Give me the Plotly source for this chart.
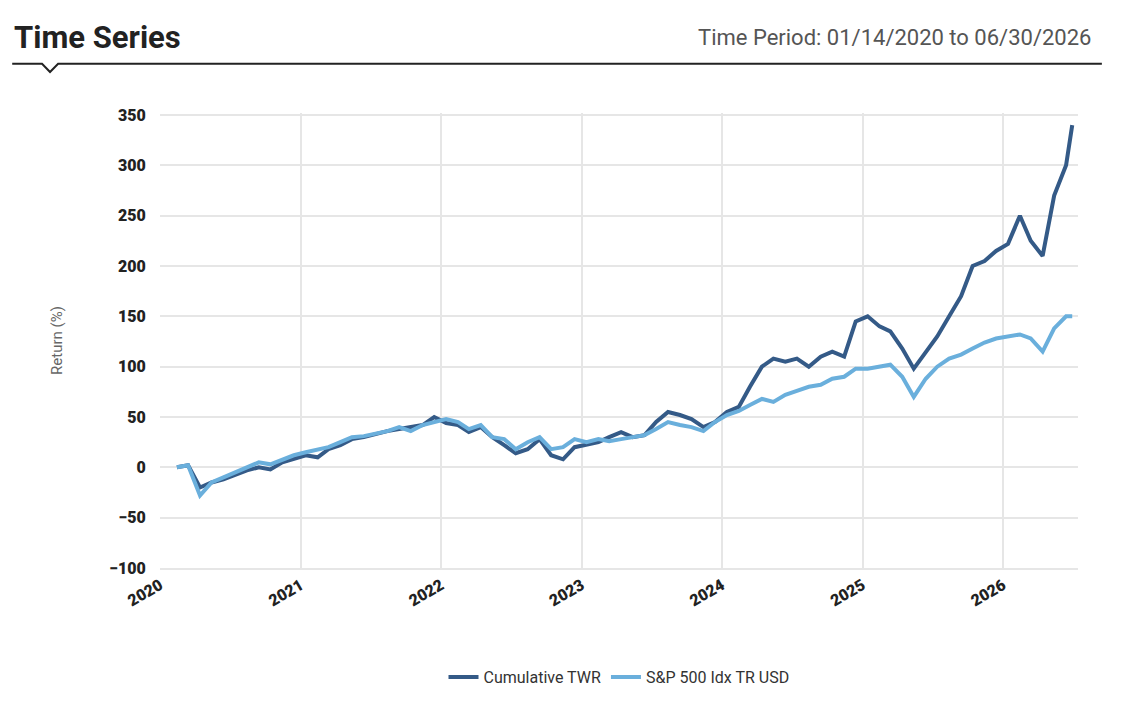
import plotly.graph_objects as go
import pandas as pd

# ---- Datos ----
fechas = list(pd.date_range("2020-01-14", periods=78, freq="MS") + pd.Timedelta(days=13))
fechas[-1] = pd.Timestamp("2026-06-30")

twr = [0, 2, -20, -15, -12, -8, -3, 0, -2, 5, 8, 12,
       10, 18, 22, 28, 30, 33, 36, 38, 40, 42, 50, 44,
       42, 35, 40, 30, 22, 14, 18, 28, 12, 8, 20, 22,
       25, 30, 35, 30, 32, 45, 55, 52, 48, 40, 45, 55,
       60, 80, 100, 108, 105, 108, 100, 110, 115, 110, 145, 150,
       140, 135, 118, 98, 115, 130, 150, 170, 200, 205, 215, 222,
       250, 225, 210, 270, 300, 340]
sp500 = [0, 2, -28, -15, -10, -5, 0, 5, 3, 8, 12, 15,
         18, 20, 25, 30, 31, 33, 36, 40, 36, 42, 45, 48,
         45, 38, 42, 30, 28, 18, 25, 30, 18, 20, 28, 25,
         28, 26, 28, 30, 32, 38, 45, 42, 40, 36, 45, 52,
         56, 62, 68, 65, 72, 76, 80, 82, 88, 90, 98, 98,
         100, 102, 90, 70, 88, 100, 108, 112, 118, 124, 128, 130,
         132, 128, 115, 138, 150, 150]

años = ["2020", "2021", "2022", "2023", "2024", "2025", "2026"]

fig = go.Figure()
fig.add_trace(go.Scatter(x=fechas, y=twr, name="Cumulative TWR", mode="lines",
                         line=dict(color="#345a87", width=4)))
fig.add_trace(go.Scatter(x=fechas, y=sp500, name="S&P 500 Idx TR USD", mode="lines",
                         line=dict(color="#6aafdc", width=4)))

fig.update_layout(
    margin=dict(l=152, r=44, t=105, b=132, autoexpand=False),
    plot_bgcolor="white", paper_bgcolor="white",
    font=dict(family="Roboto", color="#333"),
    xaxis=dict(range=["2020-01-01", "2026-07-15"], tickvals=[a + "-01-01" for a in años],
               ticktext=años, tickangle=-30, showgrid=True, gridcolor="#e6e6e6", gridwidth=2,
               showline=True, linecolor="#e6e6e6", linewidth=2, ticks="",
               tickfont=dict(size=16, color="#222", family="Roboto Black")),
    yaxis=dict(range=[-100, 352], dtick=50, showgrid=True, gridcolor="#e6e6e6", gridwidth=2,
               zeroline=False, ticks="outside", ticklen=10, tickcolor="white",
               tickfont=dict(size=16, color="#222", family="Roboto Black"),
               title=dict(text="Return (%)", font=dict(size=15, color="#666"), standoff=42)),
    legend=dict(orientation="h", x=0.5, xanchor="center", y=-0.24, yanchor="middle",
                font=dict(size=16, color="#333")),
    annotations=[
        dict(text="<b>Time Series</b>", xref="paper", yref="paper", x=-0.161, y=1.165,
             xanchor="left", yanchor="middle", showarrow=False,
             font=dict(size=31, color="#222", family="Roboto")),
        dict(text="Time Period: 01/14/2020 to 06/30/2026", xref="paper", yref="paper",
             x=1.016, y=1.165, xanchor="right", yanchor="middle", showarrow=False,
             font=dict(size=22, color="#555")),
    ],
    shapes=[
        dict(type="path", xref="paper", yref="paper",
             path="M -0.161 1.108 L -0.1285 1.108 L -0.1198 1.09 L -0.111 1.108 L 1.026 1.108",
             line=dict(color="#222", width=2)),
    ],
)

fig.write_html("out.html")
